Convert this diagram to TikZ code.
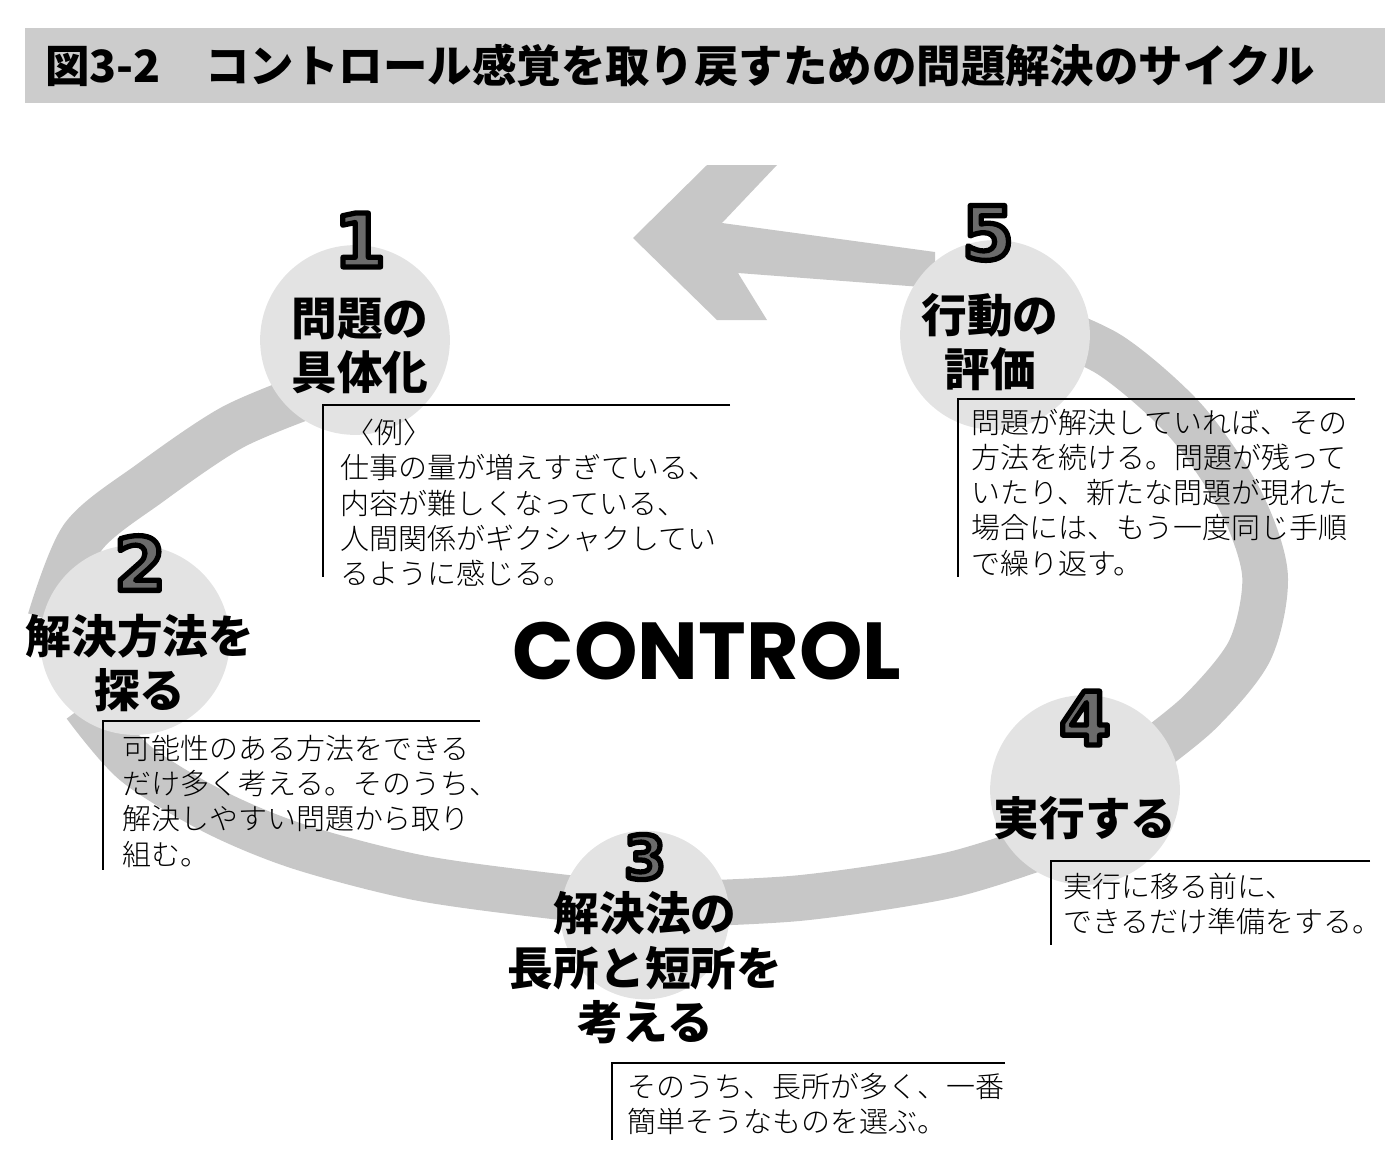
\documentclass[tikz,border=0pt]{standalone}
\usepackage{fontspec}
\usepackage{tikz}
\usetikzlibrary{positioning}
\newfontfamily\jpfont{Noto Sans CJK JP}
\IfFontExistsTF{Noto Sans CJK JP Light}
  {\newfontfamily\jplight{Noto Sans CJK JP Light}}
  {\newfontfamily\jplight{Noto Sans CJK JP}}
\IfFontExistsTF{Noto Sans CJK JP Black}
  {\newfontfamily\jpheavy{Noto Sans CJK JP Black}}
  {\newfontfamily\jpheavyA{Noto Sans CJK JP}\newcommand\jpheavy{\jpheavyA\bfseries}}
\newfontfamily\numfont{DejaVu Sans}
\newfontfamily\ctlfont{Poppins}
\definecolor{bargray}{gray}{0.80}
\definecolor{ringgray}{gray}{0.78}
\definecolor{discgray}{gray}{0.89}
\definecolor{numgray}{gray}{0.42}
% outlined digit: fill + stroke text render mode
\newcommand\outnum[1]{{\color{numgray}\special{pdf:literal direct 2 Tr 3 w 0 G 1 j}#1\special{pdf:literal direct 0 Tr}}}
\tikzset{
  band/.style={draw=ringgray, line width=26pt},
  disc/.style={circle, fill=discgray, inner sep=0, minimum size=108pt},
  stepnum/.style={font=\numfont\bfseries\fontsize{42}{42}\selectfont, inner sep=0},
  steptitle/.style={font=\jpheavy\fontsize{26}{31}\selectfont, align=center, inner sep=0},
  note/.style={font=\jplight\fontsize{16.5}{20}\selectfont, align=left, anchor=north west, inner sep=0},
  rule/.style={line width=0.9pt},
}

\begin{document}
\begin{tikzpicture}[x=0.02cm,y=-0.02cm]
    \useasboundingbox (0,0) rectangle (1400,1170);
    % title
    \fill[bargray] (25,28) rectangle (1385,103);
    \node[anchor=west, inner sep=0, font=\jpfont\bfseries\fontsize{25.3}{25.3}\selectfont] (title) at (45,66)
      {図3-2　コントロール感覚を取り戻すための問題解決のサイクル};

    % cycle band
    \draw[band] plot [smooth] coordinates {(318,392) (233,427) (150,483) (83,537) (50,620)};
    \draw[band] plot [smooth] coordinates {(85,705) (135,763) (215,812) (300,847) (420,878) (560,897) (650,905)};
    \draw[band] plot [smooth] coordinates {(650,905) (800,898) (950,875) (1060,840)};
    \draw[band] plot [smooth] coordinates {(1030,320) (1110,355) (1185,420) (1240,500) (1265,575) (1250,650) (1200,712) (1140,760)};
    \fill[ringgray] (633,238) -- (707,165) -- (777,165) -- (722,223) -- (935,252)
      -- (935,288) -- (738,273) -- (767,320) -- (717,320) -- cycle;

    \node[disc] (c1) at (355,340) {};
    \node[disc] (c5) at (995,335) {};
    \node[disc] (c2) at (135,640) {};
    \node[disc] (c4) at (1085,790) {};
    \node[disc, minimum size=96pt] (c3) at (645,915) {};

    % numbers
    \node[stepnum] (n1) at (360,240) {\outnum{1}};
    \node[stepnum] (n5) at (988,233) {\outnum{5}};
    \node[stepnum] (n2) at (140,563) {\outnum{2}};
    \node[stepnum] (n4) at (1085,718) {\outnum{4}};
    \node[stepnum, font=\numfont\bfseries\fontsize{34}{34}\selectfont] (n3) at (645,857) {\outnum{3}};

    % step titles
    \node[steptitle] (t1) at (360,346) {問題の\\具体化};
    \node[steptitle] (t5) at (990,342) {行動の\\評価};
    \node[steptitle] (t2) at (140,663) {解決方法を\\探る};
    \node[steptitle] (t4) at (1085,818) {実行する};
    \node[steptitle] (t3) at (645,968) {解決法の\\長所と短所を\\考える};

    \node[font=\ctlfont\bfseries\fontsize{46}{46}\selectfont, inner sep=0] (ctl) at (707,651) {CONTROL};

    % notes
    \draw[rule] (730,405) -| (323,577);
    \node[note] (b1) at (340,419) {\,〈例〉\\仕事の量が増えすぎている、\\内容が難しくなっている、\\人間関係がギクシャクしてい\\るように感じる。};
    \draw[rule] (1355,399) -| (958,577);
    \node[note] (b5) at (971,409) {問題が解決していれば、その\\方法を続ける。問題が残って\\いたり、新たな問題が現れた\\場合には、もう一度同じ手順\\で繰り返す。};
    \draw[rule] (480,721) -| (103,870);
    \node[note] (b2) at (122,735) {可能性のある方法をできる\\だけ多く考える。そのうち、\\解決しやすい問題から取り\\組む。};
    \draw[rule] (1370,861) -| (1051,945);
    \node[note] (b4) at (1063,873) {実行に移る前に、\\できるだけ準備をする。};
    \draw[rule] (1005,1063) -| (612,1140);
    \node[note] (b3) at (627,1073) {そのうち、長所が多く、一番\\簡単そうなものを選ぶ。};
\end{tikzpicture}
\end{document}
